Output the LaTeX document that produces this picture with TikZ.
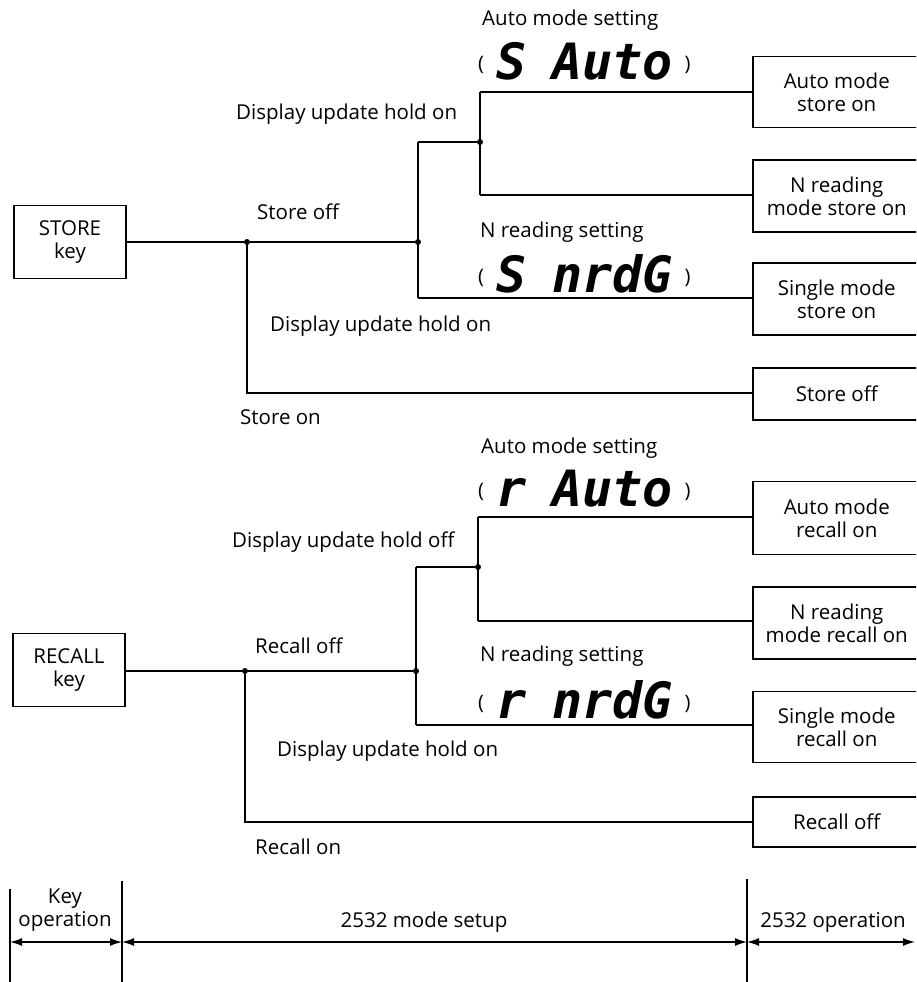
\documentclass[tikz,border=0pt]{standalone}
\usepackage{fontspec}
\setmainfont{Open Sans}
\newfontfamily\segfont{DejaVu Sans Mono}
\usetikzlibrary{arrows.meta}
\def\lblfont{\fontsize{20.5}{23}\selectfont}
\tikzset{
  wire/.style={line width=1.5pt},
  keybox/.style={draw, line width=1.5pt, minimum width=112pt, minimum height=73pt, align=center, font=\lblfont},
  outbox/.style={draw, line width=1.5pt, anchor=west, minimum width=168pt, align=center, font=\lblfont},
  lbl/.style={anchor=west, inner sep=0pt, font=\lblfont},
  disp/.style={anchor=west, inner sep=0pt},
  jdot/.style={circle, fill, inner sep=0pt, minimum size=6pt},
  dim/.style={line width=1.4pt, {Latex[length=12pt,width=8pt]}-{Latex[length=12pt,width=8pt]}},
}
\newcommand{\segtext}[3]{{\fontsize{20}{20}\selectfont\raisebox{9pt}{(}}\hspace{#3pt}{\segfont\bfseries\itshape\fontsize{50}{50}\selectfont #1\hspace{26pt}#2}\hspace{12pt}{\fontsize{20}{20}\selectfont\raisebox{9pt}{)}}}
\begin{document}
\begin{tikzpicture}[x=1pt,y=-1pt]
\useasboundingbox (0,0) rectangle (916,982);
\clip (0,0) rectangle (916,982);
% ---------- upper block ----------
\node[keybox] (store) at (70,242) {STORE\\key};
\node[jdot] (s1) at (247,242) {};
\node[jdot] (s2) at (418,242) {};
\node[jdot] (s3) at (480,142) {};
\coordinate (s2t) at (418,142);
\coordinate (s2b) at (418,298);
\coordinate (s3t) at (480,92);
\coordinate (s3b) at (480,195);
\coordinate (s1b) at (247,393);
\node[outbox, minimum height=71pt] (sauto) at (752,92) {Auto mode\\store on};
\node[outbox, minimum height=72pt] (sn) at (752,196) {N reading\\mode store on};
\node[outbox, minimum height=72pt] (ssingle) at (752,299) {Single mode\\store on};
\node[outbox, minimum height=52pt] (soff) at (752,394) {Store off};
\draw[wire] (store.east |- s1) -- (s1) -- (s2);
\draw[wire] (s2t) -- (s2b);
\draw[wire] (s2t) -- (s3);
\draw[wire] (s3t) -- (s3b);
\draw[wire] (s3t) -- (s3t -| sauto.west);
\draw[wire] (s3b) -- (s3b -| sn.west);
\draw[wire] (s2b) -- (s2b -| ssingle.west);
\draw[wire] (s1) -- (s1b) -- (s1b -| soff.west);
\node[lbl] (l1) at (482,20) {Auto mode setting};
\node[disp] (d1) at (478,61) {\segtext{S}{Auto}{12}};
\node[lbl] (l2) at (236,114) {Display update hold on};
\node[lbl] (l3) at (257,212) {Store off};
\node[lbl] (l4) at (480,232) {N reading setting};
\node[disp] (d2) at (478,274) {\segtext{S}{nrdG}{12}};
\node[lbl] (l5) at (270,326) {Display update hold on};
\node[lbl] (l6) at (240,417) {Store on};
% ---------- lower block ----------
\node[keybox] (recall) at (69,670) {RECALL\\key};
\node[jdot] (r1) at (245,671) {};
\node[jdot] (r2) at (416,671) {};
\node[jdot] (r3) at (478,567) {};
\coordinate (r2t) at (416,567);
\coordinate (r2b) at (416,725);
\coordinate (r3t) at (478,517);
\coordinate (r3b) at (478,621);
\coordinate (r1b) at (245,822);
\node[outbox, minimum height=73pt] (rauto) at (752,518) {Auto mode\\recall on};
\node[outbox, minimum height=72pt] (rn) at (752,623) {N reading\\mode recall on};
\node[outbox, minimum height=71pt] (rsingle) at (752,727) {Single mode\\recall on};
\node[outbox, minimum height=50pt] (roff) at (752,822) {Recall off};
\draw[wire] (recall.east |- r1) -- (r1) -- (r2);
\draw[wire] (r2t) -- (r2b);
\draw[wire] (r2t) -- (r3);
\draw[wire] (r3t) -- (r3b);
\draw[wire] (r3t) -- (r3t -| rauto.west);
\draw[wire] (r3b) -- (r3b -| rn.west);
\draw[wire] (r2b) -- (r2b -| rsingle.west);
\draw[wire] (r1) -- (r1b) -- (r1b -| roff.west);
\node[lbl] (m1) at (481,448) {Auto mode setting};
\node[disp] (d3) at (478,489) {\segtext{r}{Auto}{12}};
\node[lbl] (m2) at (232,542) {Display update hold off};
\node[lbl] (m3) at (255,646) {Recall off};
\node[lbl] (m4) at (480,656) {N reading setting};
\node[disp] (d4) at (478,700) {\segtext{r}{nrdG}{12}};
\node[lbl] (m5) at (277,751) {Display update hold on};
\node[lbl] (m6) at (255,847) {Recall on};
% ---------- bottom dimension ----------
\coordinate (v1t) at (10,889);
\coordinate (v1b) at (10,982);
\coordinate (v2t) at (122,881);
\coordinate (v2b) at (122,982);
\coordinate (v3t) at (747,879);
\coordinate (v3b) at (747,982);
\coordinate (a1) at (10,942);
\coordinate (a2) at (122,942);
\coordinate (a3) at (747,942);
\coordinate (a4) at (915,942);
\draw[wire] (v1t) -- (v1b);
\draw[wire] (v2t) -- (v2b);
\draw[wire] (v3t) -- (v3b);
\draw[dim] (a1) -- (a2);
\draw[dim] (a2) -- (a3);
\draw[dim] (a3) -- (a4);
\node[align=center, inner sep=0pt, font=\fontsize{20.5}{23}\selectfont] (k) at (65,910) {Key\\operation};
\node[inner sep=0pt, font=\lblfont] (ms) at (424,922) {2532 mode setup};
\node[inner sep=0pt, font=\lblfont] (op) at (833,922) {2532 operation};
\end{tikzpicture}
\end{document}
